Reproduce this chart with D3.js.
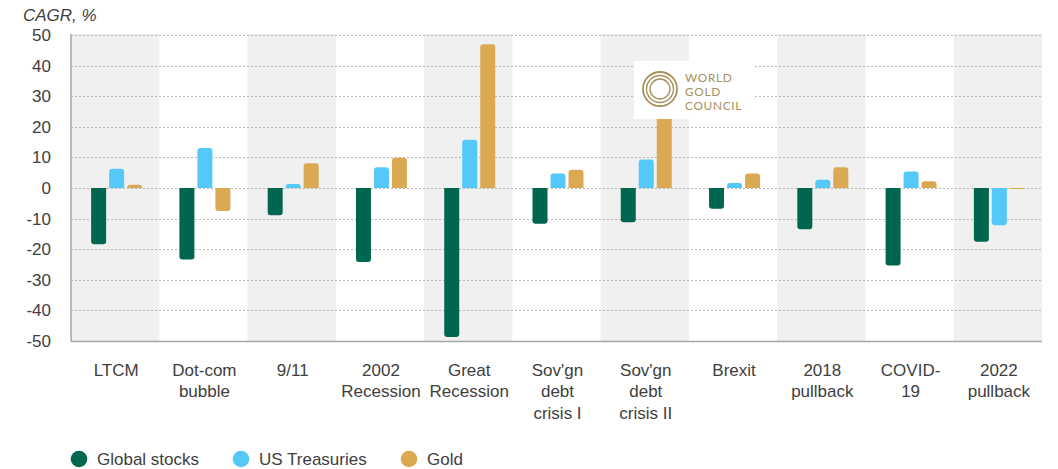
<!DOCTYPE html>
<html>
<head>
<meta charset="utf-8">
<script src="https://cdn.jsdelivr.net/npm/d3@7"></script>
<style>
  html, body { margin: 0; padding: 0; background: #ffffff; }
  svg { display: block; font-family: "Liberation Sans", Arial, sans-serif; }
</style>
</head>
<body>
<svg id="chart" width="1058" height="469"></svg>
<script>
// Event categories (label lines for each)
const categories = ["LTCM", "Dot-com bubble", "9/11", "2002 Recession", "Great Recession",
  "Sov'gn debt crisis I", "Sov'gn debt crisis II", "Brexit", "2018 pullback", "COVID-19", "2022 pullback"];
const categoryLines = [["LTCM"], ["Dot-com", "bubble"], ["9/11"], ["2002", "Recession"], ["Great", "Recession"],
  ["Sov'gn", "debt", "crisis I"], ["Sov'gn", "debt", "crisis II"], ["Brexit"], ["2018", "pullback"],
  ["COVID-", "19"], ["2022", "pullback"]];

// CAGR, % during each drawdown
const seriesNames = ["Global stocks", "US Treasuries", "Gold"];
const globalStocks = [-18.4, -23.4, -8.9, -24.2, -48.7, -11.7, -11.2, -6.8, -13.5, -25.3, -17.6];
const usTreasuries = [6.3, 13.1, 1.3, 6.8, 15.8, 4.7, 9.3, 1.6, 2.7, 5.4, -12.2];
const gold = [1.1, -7.5, 8.1, 9.9, 47.0, 6.0, 27.0, 4.7, 6.8, 2.2, -0.3];
const seriesColors = ["#00664f", "#55c8fa", "#dba951"];

const yTicks = [50, 40, 30, 20, 10, 0, -10, -20, -30, -40, -50];

const svg = d3.select("#chart");
const plotLeft = 71, plotRight = 1042, plotTop = 35, plotBottom = 341;

const x0 = d3.scaleBand().domain(categories).range([plotLeft, plotRight]).padding(0);
const groupW = 51;
const x1 = d3.scaleBand().domain(seriesNames).range([0, groupW]).paddingInner(1 / 6).paddingOuter(0);
const y = d3.scaleLinear().domain([-50, 50]).range([plotBottom, plotTop]);

// Alternating shaded bands
svg.append("g").selectAll("rect")
  .data(categories.filter((c, i) => i % 2 === 0))
  .join("rect")
  .attr("x", d => x0(d))
  .attr("y", y(50) - 1)
  .attr("width", x0.bandwidth())
  .attr("height", y(-50) - y(50) + 1)
  .attr("fill", "#f0f0f0");

// Dotted gridlines
svg.append("g").selectAll("line")
  .data(yTicks.filter(t => t !== -50))
  .join("line")
  .attr("x1", plotLeft).attr("x2", plotRight)
  .attr("y1", d => Math.round(y(d)) + 0.5).attr("y2", d => Math.round(y(d)) + 0.5)
  .attr("stroke", "#b8b8b8")
  .attr("stroke-width", 1)
  .attr("stroke-dasharray", "2,2");

// Bars with rounded far ends
function barPath(x, w, v) {
  const y0 = y(0), y1 = y(v);
  const h = Math.abs(y1 - y0);
  const r = Math.min(3, h, w / 2);
  if (h < 0.01) return "";
  if (v >= 0) {
    return `M${x},${y0}V${y1 + r}Q${x},${y1} ${x + r},${y1}H${x + w - r}Q${x + w},${y1} ${x + w},${y1 + r}V${y0}Z`;
  }
  return `M${x},${y0}V${y1 - r}Q${x},${y1} ${x + r},${y1}H${x + w - r}Q${x + w},${y1} ${x + w},${y1 - r}V${y0}Z`;
}

const seriesValues = [globalStocks, usTreasuries, gold];
const rows = [];
categories.forEach((c, i) => {
  seriesNames.forEach((s, j) => rows.push({ c, s, j, v: seriesValues[j][i] }));
});
const groupOffset = (x0.bandwidth() - groupW) / 2 + 1.5;
svg.append("g").selectAll("path")
  .data(rows)
  .join("path")
  .attr("d", d => barPath(x0(d.c) + groupOffset + x1(d.s), x1.bandwidth(), d.v))
  .attr("fill", d => seriesColors[d.j]);

// Axis lines
svg.append("line").attr("x1", plotLeft).attr("x2", plotLeft).attr("y1", plotTop - 1).attr("y2", plotBottom + 0.5)
  .attr("stroke", "#a6a6a6").attr("stroke-width", 1.5);
svg.append("line").attr("x1", plotLeft).attr("x2", plotRight).attr("y1", plotBottom + 0.5).attr("y2", plotBottom + 0.5)
  .attr("stroke", "#a6a6a6").attr("stroke-width", 1.5);

// Y tick labels (plain hyphen for negatives)
const yAxis = d3.axisLeft(y).tickValues(yTicks).tickSize(0).tickPadding(0).tickFormat(d => String(d));
const yg = svg.append("g").attr("transform", `translate(51,0)`).call(yAxis);
yg.select(".domain").remove();
yg.selectAll("text").attr("font-size", 17).attr("fill", "#404040")
  .attr("font-family", "'Liberation Sans', Arial, sans-serif");

// Y title
svg.append("text").attr("x", 23).attr("y", 21).attr("font-size", 17).attr("font-style", "italic")
  .attr("fill", "#404040").text("CAGR, %");

// X labels
const xl = svg.append("g").selectAll("text")
  .data(categories)
  .join("text")
  .attr("text-anchor", "middle")
  .attr("font-size", 17)
  .attr("fill", "#404040")
  .attr("transform", d => `translate(${x0(d) + x0.bandwidth() / 2 + 1},376)`);
xl.each(function (d, i) {
  d3.select(this).selectAll("tspan")
    .data(categoryLines[i])
    .join("tspan")
    .attr("x", 0)
    .attr("y", (t, k) => k * 21.3)
    .text(t => t);
});

// Legend
const legendX = [79, 241, 409];
const lg = svg.append("g").selectAll("g")
  .data(seriesNames)
  .join("g")
  .attr("transform", (d, i) => `translate(${legendX[i]},459)`);
lg.append("circle").attr("r", 8.3).attr("fill", (d, i) => seriesColors[i]);
lg.append("text").attr("x", 18).attr("y", 6).attr("font-size", 17).attr("fill", "#404040").text(d => d);

// World Gold Council mark
const logo = svg.append("g").attr("transform", "translate(634,61)");
logo.append("rect").attr("width", 119).attr("height", 58).attr("fill", "#ffffff");
const logoColor = "#a8915e";
[17, 13.5, 10].forEach((r, i) => {
  logo.append("circle").attr("cx", 26).attr("cy", 28).attr("r", r)
    .attr("fill", "none").attr("stroke", logoColor).attr("stroke-width", i === 0 ? 1.8 : 1.4);
});
["WORLD", "GOLD", "COUNCIL"].forEach((t, i) => {
  logo.append("text").attr("x", 51).attr("y", 20.5 + i * 14.3)
    .attr("font-family", "Lato, 'Open Sans', sans-serif")
    .attr("font-size", 11.8).attr("letter-spacing", 0.7)
    .attr("fill", logoColor).text(t);
});
</script>
</body>
</html>
